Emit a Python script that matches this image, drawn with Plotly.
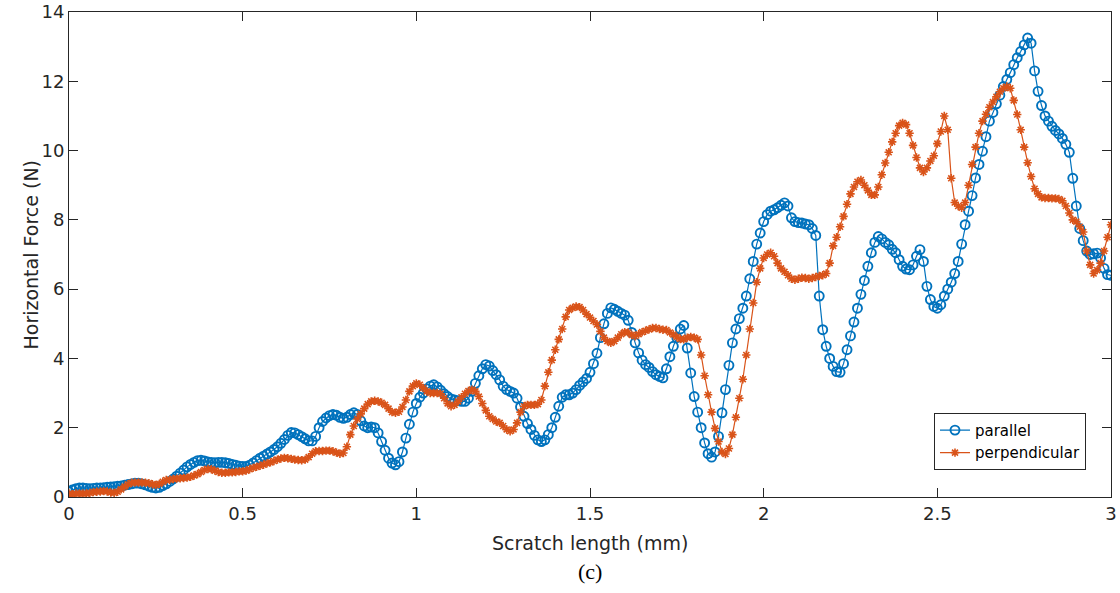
import numpy as np
import plotly.graph_objects as go

# Scratch position (mm), sampled every 0.01 mm
scratch_mm = np.round(np.arange(0, 301) * 0.01, 2)

# Horizontal force (N), scratch direction parallel to the texture
force_parallel = [
    0.15, 0.2, 0.24, 0.26, 0.26, 0.25, 0.24, 0.25, 0.26, 0.26,
    0.27, 0.28, 0.29, 0.3, 0.31, 0.32, 0.34, 0.36, 0.38, 0.4,
    0.4, 0.38, 0.35, 0.31, 0.28, 0.26, 0.28, 0.33, 0.38, 0.45,
    0.52, 0.6, 0.69, 0.78, 0.87, 0.94, 1.0, 1.05, 1.06, 1.04,
    1.01, 1.0, 0.99, 1.0, 1.0, 0.99, 0.97, 0.94, 0.92, 0.89,
    0.88, 0.88, 0.92, 0.98, 1.05, 1.12, 1.18, 1.24, 1.3, 1.37,
    1.45, 1.55, 1.66, 1.78, 1.86, 1.85, 1.8, 1.74, 1.68, 1.62,
    1.62, 1.75, 2.0, 2.18, 2.28, 2.35, 2.38, 2.36, 2.3, 2.27,
    2.3, 2.38, 2.43, 2.38, 2.2, 2.05, 2.0, 2.02, 2.0, 1.85,
    1.6, 1.35, 1.12, 0.98, 0.93, 1.02, 1.3, 1.7, 2.1, 2.45,
    2.7, 2.88, 3.0, 3.12, 3.2, 3.24, 3.18, 3.08, 2.98, 2.9,
    2.83, 2.8, 2.78, 2.76, 2.76, 2.85, 3.05, 3.28, 3.5, 3.7,
    3.82, 3.78, 3.65, 3.53, 3.38, 3.2, 3.1, 3.05, 3.0, 2.85,
    2.6, 2.33, 2.12, 1.95, 1.78, 1.65, 1.6, 1.65, 1.8, 2.0,
    2.3, 2.62, 2.88, 2.95, 2.95, 3.0, 3.1, 3.22, 3.32, 3.42,
    3.6, 3.85, 4.15, 4.6, 5.0, 5.3, 5.46, 5.42, 5.36, 5.3,
    5.25, 5.1, 4.75, 4.45, 4.16, 3.95, 3.82, 3.74, 3.62, 3.53,
    3.48, 3.44, 3.7, 4.05, 4.35, 4.6, 4.85, 4.95, 4.3, 3.58,
    2.9, 2.45, 2.0, 1.56, 1.25, 1.15, 1.3, 1.75, 2.43, 3.1,
    3.8, 4.45, 4.85, 5.15, 5.45, 5.8, 6.3, 6.8, 7.3, 7.62,
    7.95, 8.15, 8.25, 8.29, 8.35, 8.42, 8.49, 8.4, 8.06, 7.95,
    7.92, 7.91, 7.88, 7.86, 7.75, 7.55, 5.8, 4.83, 4.35, 4.0,
    3.77, 3.62, 3.6, 3.85, 4.25, 4.65, 5.05, 5.45, 5.85, 6.25,
    6.66, 7.05, 7.35, 7.52, 7.45, 7.35, 7.28, 7.15, 7.05, 6.85,
    6.66, 6.58, 6.56, 6.7, 6.95, 7.14, 6.8, 6.08, 5.7, 5.5,
    5.45, 5.55, 5.8, 6.0, 6.2, 6.45, 6.8, 7.3, 7.86, 8.25,
    8.7, 9.21, 9.6, 9.98, 10.4, 10.85, 11.1, 11.35, 11.6, 11.85,
    12.05, 12.25, 12.48, 12.68, 12.86, 13.05, 13.25, 13.1, 12.3, 11.71,
    11.3, 11.0, 10.85, 10.7, 10.58, 10.48, 10.35, 10.18, 9.95, 9.2,
    8.4, 7.75, 7.4, 7.1, 7.0, 7.02, 7.04, 6.9, 6.6, 6.42,
    6.4,
]

# Horizontal force (N), scratch direction perpendicular to the texture
force_perpendicular = [
    0.1, 0.08, 0.1, 0.1, 0.1, 0.1, 0.12, 0.14, 0.15, 0.16,
    0.17, 0.16, 0.13, 0.12, 0.15, 0.22, 0.3, 0.37, 0.41, 0.42,
    0.42, 0.42, 0.41, 0.4, 0.37, 0.35, 0.38, 0.44, 0.49, 0.5,
    0.52, 0.53, 0.54, 0.55, 0.56, 0.58, 0.62, 0.66, 0.72, 0.78,
    0.81, 0.8, 0.76, 0.72, 0.7, 0.7, 0.71, 0.71, 0.72, 0.74,
    0.74, 0.76, 0.8, 0.84, 0.87, 0.9, 0.93, 0.97, 1.0, 1.04,
    1.08, 1.11, 1.13, 1.12, 1.1, 1.08, 1.07, 1.06, 1.08, 1.15,
    1.25, 1.32, 1.33, 1.33, 1.34, 1.34, 1.32, 1.28, 1.25, 1.27,
    1.45, 1.8, 2.05, 2.25, 2.4, 2.55, 2.68, 2.76, 2.78, 2.76,
    2.72, 2.66, 2.55, 2.45, 2.43, 2.46, 2.6, 2.8, 3.05, 3.2,
    3.28, 3.24, 3.15, 3.05, 3.0, 3.0, 3.0, 2.98, 2.85, 2.7,
    2.62, 2.66, 2.76, 2.88, 2.98, 3.06, 3.1, 3.05, 2.9, 2.7,
    2.5, 2.33, 2.25, 2.18, 2.14, 2.05, 1.95, 1.9, 1.95, 2.14,
    2.45, 2.62, 2.66, 2.66, 2.66, 2.68, 2.8, 3.2, 3.6, 3.95,
    4.25, 4.55, 4.85, 5.2, 5.4, 5.46, 5.5, 5.48, 5.4, 5.28,
    5.18, 5.08, 4.98, 4.78, 4.6, 4.5, 4.45, 4.5, 4.6, 4.7,
    4.76, 4.75, 4.68, 4.64, 4.7, 4.76, 4.8, 4.84, 4.88, 4.88,
    4.85, 4.83, 4.82, 4.75, 4.69, 4.62, 4.56, 4.55, 4.6, 4.62,
    4.6, 4.55, 4.1, 3.5, 2.95, 2.45, 1.98, 1.6, 1.3, 1.24,
    1.4, 1.8, 2.3, 2.85, 3.4, 4.1, 4.85, 5.6, 6.2, 6.6,
    6.9, 7.0, 7.05, 6.95, 6.75, 6.6, 6.5, 6.4, 6.3, 6.27,
    6.3, 6.33, 6.32, 6.3, 6.32, 6.35, 6.38, 6.4, 6.45, 6.75,
    7.25, 7.5, 7.8, 8.1, 8.45, 8.75, 8.95, 9.1, 9.15, 9.0,
    8.85, 8.72, 8.72, 8.95, 9.3, 9.64, 9.95, 10.25, 10.5, 10.72,
    10.8, 10.75, 10.5, 10.15, 9.8, 9.5, 9.38, 9.5, 9.7, 9.85,
    10.2, 10.55, 11.0, 10.6, 9.2, 8.5, 8.4, 8.35, 8.5, 9.0,
    9.6, 10.1, 10.5, 10.85, 11.05, 11.25, 11.4, 11.55, 11.7, 11.8,
    11.85, 11.8, 11.45, 11.04, 10.6, 10.1, 9.65, 9.25, 8.9, 8.75,
    8.65, 8.63, 8.63, 8.62, 8.62, 8.6, 8.55, 8.4, 8.2, 8.0,
    7.95, 7.8, 7.65, 7.1, 6.7, 6.45, 6.55, 6.75, 7.1, 7.5,
    7.86,
]

x_ticks = [0, 0.5, 1, 1.5, 2, 2.5, 3]
x_tick_text = ["0", "0.5", "1", "1.5", "2", "2.5", "3"]
y_ticks = [0, 2, 4, 6, 8, 10, 12, 14]
y_tick_text = ["0", "2", "4", "6", "8", "10", "12", "14"]

BLUE = "#0072BD"
ORANGE = "#D95319"
AXIS = "#262626"
SANS = "DejaVu Sans, Arial, sans-serif"

fig = go.Figure()
fig.add_trace(go.Scatter(
    x=scratch_mm, y=force_parallel, name="parallel",
    mode="lines+markers",
    line=dict(color=BLUE, width=1.2),
    marker=dict(symbol="circle-open", size=9, color=BLUE,
                line=dict(width=1.9, color=BLUE)),
))
fig.add_trace(go.Scatter(
    x=scratch_mm, y=force_perpendicular, name="perpendicular",
    mode="lines+markers",
    line=dict(color=ORANGE, width=1.2),
    marker=dict(symbol="asterisk-open", size=7, color=ORANGE,
                line=dict(width=1.6, color=ORANGE)),
))

axis_common = dict(
    showgrid=False, zeroline=False, automargin=False,
    showline=True, linecolor=AXIS, linewidth=1, mirror="ticks",
    ticks="inside", ticklen=9, tickwidth=1, tickcolor=AXIS,
    tickfont=dict(family=SANS, size=18, color=AXIS),
)

fig.update_layout(
    width=1120, height=593,
    margin=dict(l=69, r=9, t=12, b=96),
    paper_bgcolor="white", plot_bgcolor="white",
    showlegend=True,
    legend=dict(
        x=0.976, y=0.056, xanchor="right", yanchor="bottom",
        bgcolor="white", bordercolor=AXIS, borderwidth=1,
        font=dict(family=SANS, size=15, color="black"),
        tracegroupgap=0, itemwidth=30,
    ),
    xaxis=dict(range=[0, 3], tickvals=x_ticks, ticktext=x_tick_text,
               **axis_common),
    yaxis=dict(range=[0, 14], tickvals=y_ticks, ticktext=y_tick_text,
               **axis_common),
    annotations=[
        dict(text="Scratch length (mm)", xref="paper", yref="paper",
             x=0.5, y=-0.094, xanchor="center", yanchor="middle",
             showarrow=False,
             font=dict(family=SANS, size=19, color=AXIS)),
        dict(text="Horizontal Force (N)", xref="paper", yref="paper",
             x=-0.0374, y=0.5, xanchor="center", yanchor="middle",
             textangle=-90, showarrow=False,
             font=dict(family=SANS, size=19, color=AXIS)),
        dict(text="(c)", xref="paper", yref="paper",
             x=0.5, y=-0.154, xanchor="center", yanchor="middle",
             showarrow=False,
             font=dict(family="Liberation Serif, Times New Roman, serif",
                       size=22, color="black")),
    ],
)

fig.write_html("out.html")
